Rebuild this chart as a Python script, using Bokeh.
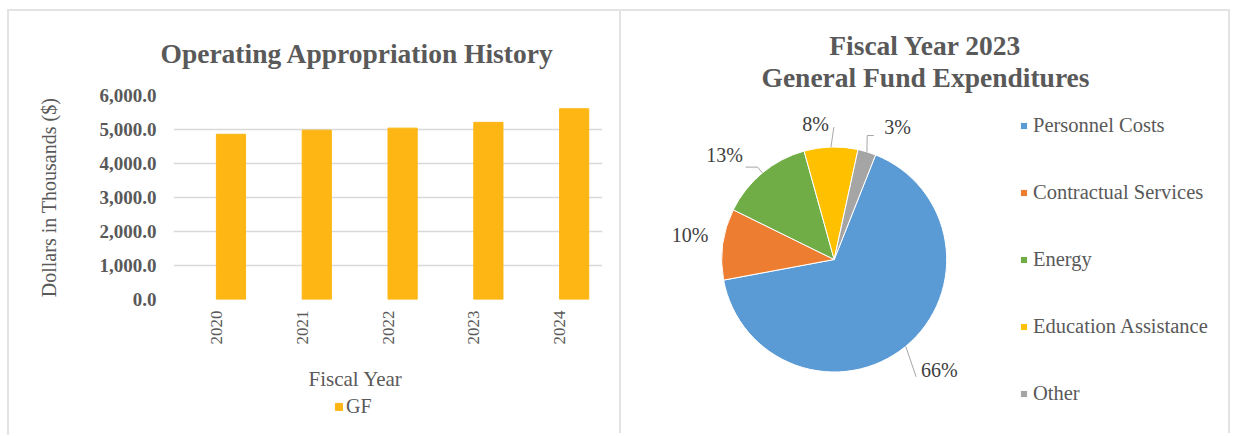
import math
from bokeh.plotting import figure
from bokeh.models import (FactorRange, Range1d, Legend, LegendItem, Title,
                          NumeralTickFormatter, FixedTicker, ColumnDataSource)
from bokeh.transform import dodge
from bokeh.core.properties import value
from bokeh.embed import file_html
from bokeh.resources import INLINE

# ---------------- data ----------------
years = ["2020", "2021", "2022", "2023", "2024"]
gf_values = [4860, 4980, 5040, 5210, 5610]
y_ticks = [0, 1000, 2000, 3000, 4000, 5000, 6000]
series_name = "GF"

categories = ["Personnel Costs", "Contractual Services", "Energy",
              "Education Assistance", "Other"]
shares = [66.0, 10.2, 13.4, 7.7, 2.6]

# ---------------- styles ----------------
SERIF = "Liberation Serif"
TXT = "#595959"
BAR_COLOR = "#FDB614"
PIE_COLORS = ["#5B9BD5", "#ED7D31", "#70AD47", "#FFC000", "#A5A5A5"]
BORDER = "2px solid #e3e3e3"

# ---------------- left: bar chart ----------------
src = ColumnDataSource(dict(year=years, gf=gf_values))
p1 = figure(width=611, height=424, frame_width=429, frame_height=204,
            x_range=FactorRange(*years), y_range=Range1d(0, 6000),
            output_backend="svg", toolbar_location=None,
            min_border_left=164, min_border_right=18,
            min_border_top=84, min_border_bottom=136)
p1.styles = {"position": "absolute", "left": "7px", "top": "9px",
             "border-left": BORDER, "border-top": BORDER}
p1.outline_line_color = None
bars = p1.vbar(x=dodge("year", 0.17, range=p1.x_range), top="gf", width=0.34,
               source=src, fill_color=BAR_COLOR, line_color=BAR_COLOR)

p1.xgrid.visible = False
p1.ygrid.grid_line_color = "#d9d9d9"
p1.ygrid.grid_line_width = 1.5

ya = p1.yaxis[0]
ya.ticker = FixedTicker(ticks=y_ticks)
ya.formatter = NumeralTickFormatter(format="0,0.0")
ya.axis_line_color = None
ya.major_tick_line_color = None
ya.minor_tick_line_color = None
ya.major_tick_out = 0
ya.major_label_standoff = 17
ya.major_label_text_font = SERIF
ya.major_label_text_font_style = "bold"
ya.major_label_text_font_size = "19px"
ya.major_label_text_color = TXT
ya.axis_label = "Dollars in Thousands ($)"
ya.axis_label_text_font = SERIF
ya.axis_label_text_font_style = "normal"
ya.axis_label_text_font_size = "20px"
ya.axis_label_text_color = TXT
ya.axis_label_standoff = 37

xa = p1.xaxis[0]
xa.axis_line_color = None
xa.major_tick_line_color = None
xa.minor_tick_line_color = None
xa.major_tick_out = 0
xa.major_label_standoff = 11
xa.major_label_orientation = math.pi / 2
xa.major_label_text_font = SERIF
xa.major_label_text_font_size = "17px"
xa.major_label_text_color = TXT

p1.title.text = "Operating Appropriation History"
p1.title.align = "left"
p1.title.vertical_align = "top"
p1.title.offset = -13
p1.title.standoff = 50
p1.title.text_font = SERIF
p1.title.text_font_style = "bold"
p1.title.text_font_size = "27.5px"
p1.title.text_color = TXT

p1.add_layout(Title(text="Fiscal Year", align="left", offset=135, standoff=34,
                    text_font=SERIF, text_font_style="normal",
                    text_font_size="21px", text_color=TXT), "below")

# legend for the bar series (own small canvas under the axis title);
# its key glyph sits outside that canvas' ranges, so only the legend shows
p3 = figure(width=60, height=24, x_range=Range1d(10, 11),
            y_range=Range1d(10, 11), output_backend="svg",
            toolbar_location=None, min_border=0)
p3.styles = {"position": "absolute", "left": "334px", "top": "395px"}
p3.axis.visible = False
p3.grid.visible = False
p3.outline_line_color = None
p3.background_fill_alpha = 0
p3.border_fill_alpha = 0
key = p3.vbar(x=[0], top=[0], width=0.34, fill_color=BAR_COLOR,
              line_color=BAR_COLOR)
leg1 = Legend(items=[LegendItem(label=series_name, renderers=[key])],
              location=(0, 1), glyph_width=9, glyph_height=9,
              label_standoff=3, padding=0, margin=0, label_height=22,
              border_line_color=None, background_fill_alpha=0,
              label_text_font=SERIF, label_text_font_size="20px",
              label_text_color=TXT)
p3.add_layout(leg1, "center")

# ---------------- right: pie chart ----------------
PX = 100.0          # pixels per data unit
R = 112.5 / PX      # pie radius
first_slice = 21.6  # degrees clockwise from 12 o'clock

total = sum(shares)
c0, c1, mids = [], [], []
acc = first_slice
for s in shares:
    a = s / total * 360.0
    c0.append(acc)
    c1.append(acc + a)
    mids.append(acc + a / 2)
    acc += a

pie_src = ColumnDataSource(dict(
    cat=categories, share=shares, color=PIE_COLORS,
    start=[math.radians(90 - a) for a in c0],
    end=[math.radians(90 - a) for a in c1],
))

p2 = figure(width=611, height=424, x_range=Range1d(-2.127, 3.983),
            y_range=Range1d(-1.76, 2.48), output_backend="svg",
            toolbar_location=None, min_border=0)
p2.styles = {"position": "absolute", "left": "619px", "top": "9px",
             "border-left": BORDER, "border-top": BORDER,
             "border-right": BORDER}
p2.axis.visible = False
p2.grid.visible = False
p2.outline_line_color = None

wedges = p2.wedge(x=0, y=0, radius=R, start_angle="start", end_angle="end",
                  direction="clock", fill_color="color", line_color="white",
                  line_width=1, source=pie_src)

# percentage labels (position style: angle adjust deg, distance px)
label_adj = [-4.2, 1.75, -6.75, -6.15, 8.7]
label_dist = [152.3, 146.2, 151.2, 137.0, 146.7]
lx, ly, lt = [], [], []
for m, adj, d, s in zip(mids, label_adj, label_dist, shares):
    ang = math.radians(m + adj)
    lx.append(d / PX * math.sin(ang))
    ly.append(d / PX * math.cos(ang))
    lt.append(f"{round(s / total * 100)}%")
p2.text(x=lx, y=ly, text=lt, text_align="center", text_baseline="middle",
        text_font=value(SERIF), text_font_size="20px", text_color="#404040")

# leader lines (style: elbow angle adjust, elbow distance px, horizontal tail px)
leader = [(4.55, 143.0, 0.0), None, (0.0, 120.0, -12.0), (1.5, 132.3, 0.0),
          (-2.0, 128.3, 6.6)]
xs, ys = [], []
for m, ld in zip(mids, leader):
    if ld is None:
        continue
    adj, d, tail = ld
    a0 = math.radians(m)
    a1 = math.radians(m + adj)
    ex, ey = R * math.sin(a0), R * math.cos(a0)
    bx, by = d / PX * math.sin(a1), d / PX * math.cos(a1)
    px_ = [ex, bx]
    py_ = [ey, by]
    if tail:
        px_.append(bx + tail / PX)
        py_.append(by)
    xs.append(px_)
    ys.append(py_)
p2.multi_line(xs=xs, ys=ys, line_color="#a6a6a6", line_width=1)

# title
p2.text(x=[0.913, 0.913], y=[2.14, 1.82],
        text=["Fiscal Year 2023", "General Fund Expenditures"],
        text_align="center", text_baseline="middle", text_font=value(SERIF),
        text_font_style="bold", text_font_size="27.5px", text_color=TXT)

leg2 = Legend(items=[LegendItem(label=c, renderers=[wedges], index=i)
                     for i, c in enumerate(categories)],
              location=(398, 30), glyph_width=9, glyph_height=9,
              label_standoff=5, spacing=44, padding=10, margin=0,
              label_height=22, border_line_color=None,
              background_fill_alpha=0, label_text_font=SERIF,
              label_text_font_size="20.5px", label_text_color=TXT)
p2.add_layout(leg2, "center")

open("out.html", "w").write(file_html([p1, p2, p3], INLINE))
